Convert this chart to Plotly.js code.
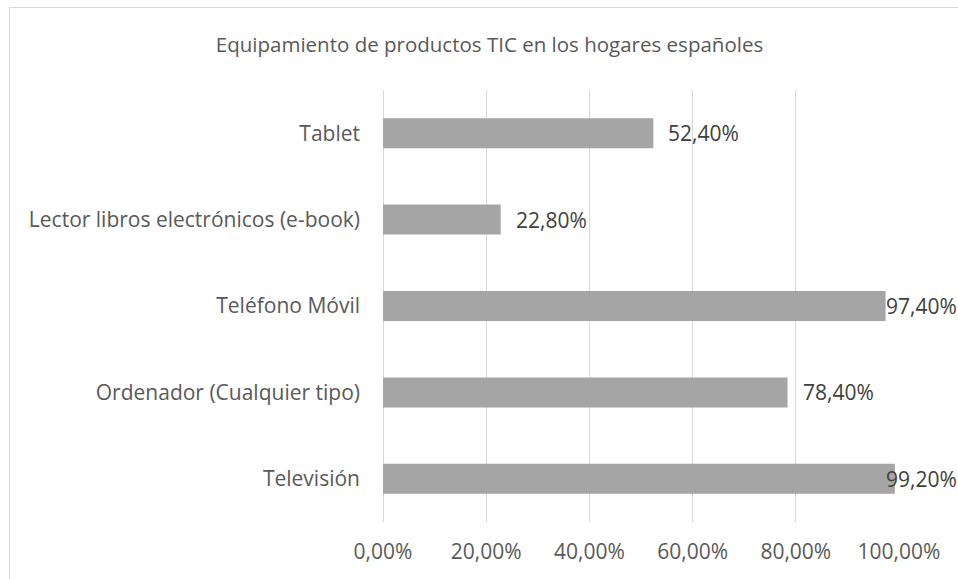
<!DOCTYPE html>
<html>
<head>
<meta charset="utf-8">
<script src="https://cdn.plot.ly/plotly-3.0.1.min.js"></script>
<style>
html,body{margin:0;padding:0;background:#fff;overflow:hidden;}
#chart{width:958px;height:579px;position:absolute;left:0;top:0;}
#frame{position:absolute;left:9px;top:7px;width:1200px;height:1200px;border:1px solid #d9d9d9;pointer-events:none;box-sizing:border-box;}
</style>
</head>
<body>
<div id="chart"></div>
<div id="frame"></div>
<script>
var categories = ["Televisión", "Ordenador (Cualquier tipo)", "Teléfono Móvil", "Lector libros electrónicos (e-book)", "Tablet"];
var values = [99.2, 78.4, 97.4, 22.8, 52.4];
var tickValues = [0, 20, 40, 60, 80, 100];
var tickLabels = ["0,00%", "20,00%", "40,00%", "60,00%", "80,00%", "100,00%"];
var titleText = "Equipamiento de productos TIC en los hogares españoles";

var labels = values.map(function(v){ return v.toFixed(2).replace('.', ',') + '%'; });
var fontFam = "'Open Sans', 'Liberation Sans', sans-serif";

var W = 958, H = 579;
var mL = 383, mR = 59, mT = 90, mB = 57;
var plotW = W - mL - mR;
var xMax = 100;

var trace = {
  type: 'bar',
  orientation: 'h',
  x: values,
  y: categories,
  marker: {color: '#a5a5a5'},
  hoverinfo: 'none'
};

// data labels as annotations: outside end, pushed left to stay inside the chart (like Excel)
var annotations = values.map(function(v, i){
  var barEndPx = mL + v / xMax * plotW;
  var shift = Math.min(13, (W - 74) - barEndPx);
  return {
    x: v, y: categories[i], xref: 'x', yref: 'y',
    text: labels[i], showarrow: false,
    xanchor: 'left', yanchor: 'middle', xshift: shift,
    font: {family: fontFam, size: 21, color: '#404040'}
  };
});

var layout = {
  width: W,
  height: H,
  margin: {l: mL, r: mR, t: mT, b: mB},
  paper_bgcolor: 'rgba(0,0,0,0)',
  plot_bgcolor: 'rgba(0,0,0,0)',
  bargap: 0.653,
  showlegend: false,
  font: {family: fontFam, color: '#595959'},
  title: {
    text: titleText,
    font: {family: fontFam, size: 20.5, color: '#595959'},
    x: 489.5 / W, xanchor: 'center', xref: 'container',
    y: 1 - 45 / H, yanchor: 'middle', yref: 'container'
  },
  annotations: annotations,
  xaxis: {
    range: [0, xMax],
    tickmode: 'array',
    tickvals: tickValues,
    ticktext: tickLabels,
    showgrid: true,
    gridcolor: '#d9d9d9',
    gridwidth: 1,
    zeroline: true,
    zerolinecolor: '#d9d9d9',
    zerolinewidth: 1,
    showline: false,
    ticks: '',
    ticklabelstandoff: 15,
    tickfont: {family: fontFam, size: 21, color: '#595959'},
    fixedrange: true
  },
  yaxis: {
    type: 'category',
    showgrid: false,
    zeroline: false,
    showline: false,
    ticks: '',
    ticklabelstandoff: 22,
    tickfont: {family: fontFam, size: 21, color: '#595959'},
    fixedrange: true
  }
};

Plotly.newPlot('chart', [trace], layout, {staticPlot: true, displayModeBar: false});
</script>
</body>
</html>
